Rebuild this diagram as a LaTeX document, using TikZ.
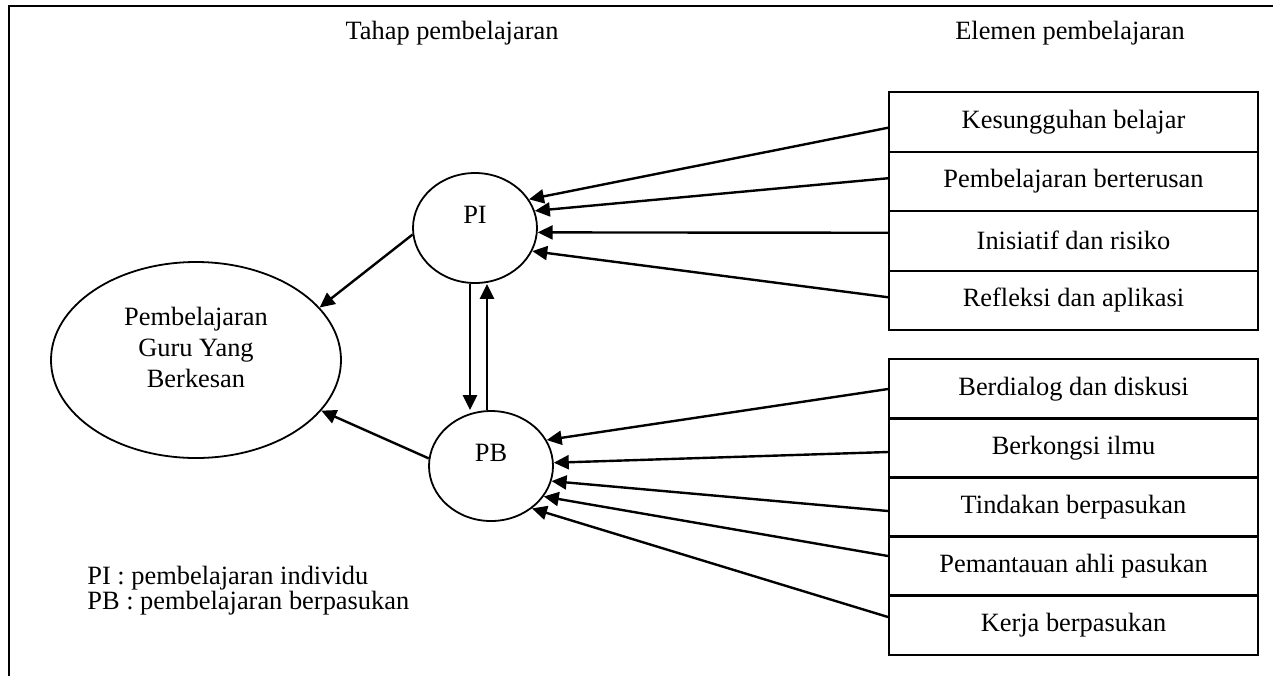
\documentclass[tikz,border=0pt]{standalone}
\usepackage{fontspec}
\setmainfont{Liberation Serif}
\usetikzlibrary{shapes.geometric,arrows.meta}

\begin{document}
\begin{tikzpicture}[x=0.5pt,y=-0.5pt,
  every node/.style={font=\fontsize{13.2}{15.5}\selectfont},
  oval/.style={ellipse, draw, line width=0.9pt, inner sep=0pt},
  elem/.style={rectangle, draw, line width=1pt, minimum width=184.5pt, minimum height=29.75pt, inner sep=0pt},
  arr/.style={-{Triangle[length=7.5pt,width=7pt]}, line width=1.2pt}]

\useasboundingbox (0,0) rectangle (1273,676);
\draw[line width=1pt] (1273,6) -- (9,6) -- (9,676);

\node (tahap) at (452,33) {Tahap pembelajaran};
\node (elemen) at (1070,33) {Elemen pembelajaran};

\node[oval, minimum width=145pt, minimum height=98pt,
  label={[align=center, yshift=6.5pt]center:Pembelajaran\\Guru Yang\\Berkesan}] (gb) at (196,360) {};
\node[oval, minimum width=62pt, minimum height=55pt, label={[yshift=6.5pt]center:PI}] (pi) at (475,228) {};
\node[oval, minimum width=62pt, minimum height=55pt, label={[yshift=6.5pt]center:PB}] (pb) at (491,466) {};

\node[elem] (k1) at (1073.5,121.75) {Kesungguhan belajar};
\node[elem] (k2) at (1073.5,181.25) {Pembelajaran berterusan};
\node[elem] (k3) at (1073.5,240.75) {Inisiatif dan risiko};
\node[elem] (k4) at (1073.5,300.25) {Refleksi dan aplikasi};

\node[elem] (b1) at (1073.5,389) {Berdialog dan diskusi};
\node[elem] (b2) at (1073.5,448) {Berkongsi ilmu};
\node[elem] (b3) at (1073.5,507) {Tindakan berpasukan};
\node[elem] (b4) at (1073.5,566) {Pemantauan ahli pasukan};
\node[elem] (b5) at (1073.5,625) {Kerja berpasukan};

\draw[arr] ([yshift=-3pt]k1.west) -- (pi.28);
\draw[arr] ([yshift=1.5pt]k2.west) -- (pi.16);
\draw[arr] ([yshift=4pt]k3.west) -- (pi.-4);
\draw[arr] ([yshift=1.5pt]k4.west) -- (pi.-22);

\draw[arr] (b1.west) -- (pb.25);
\draw[arr] ([yshift=-2pt]b2.west) -- (pb.3);
\draw[arr] ([yshift=-2pt]b3.west) -- (pb.-14);
\draw[arr] ([yshift=5pt]b4.west) -- (pb.-30);
\draw[arr] ([yshift=4pt]b5.west) -- (pb.-46);

\draw[arr] ([xshift=-2.5pt]pi.south) -- ([xshift=-10.5pt]pb.north);
\draw[arr] ([xshift=-2pt]pb.north) -- ([xshift=6pt]pi.south);

\draw[arr] (pi.186) -- (gb.23);
\draw[arr] (pb.173) -- (gb.-22);

\node[anchor=base west, inner sep=0pt] (leg1) at (87,584) {PI : pembelajaran individu};
\node[anchor=base west, inner sep=0pt] (leg2) at (87,609) {PB : pembelajaran berpasukan};
\end{tikzpicture}
\end{document}
